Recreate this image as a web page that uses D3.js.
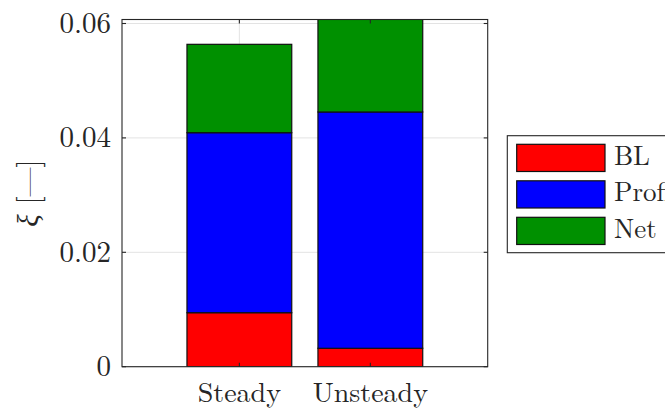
<!DOCTYPE html>
<html>
<head>
    <script src="https://d3js.org/d3.v7.min.js" charset="utf-8"></script>
    <style>
        body { margin: 0; background: white; }
    </style>
</head>
<body>
<script>
    // data
    var categories = ["Steady", "Unsteady"];
    var seriesNames = ["BL", "Profile", "Net"];
    var seriesColors = ["#ff0000", "#0000ff", "#009000"];
    var blValues = [0.00944, 0.00322];
    var profValues = [0.03147, 0.04131];
    var netValues = [0.01545, 0.0165];
    var yTicks = [0, 0.02, 0.04, 0.06];
    var yTickLabels = ["0", "0.02", "0.04", "0.06"];

    var W = 665, H = 409;
    var axL = 122, axR = 487.7, axT = 19.5, axB = 366.7;
    var serif = "'Latin Modern Roman', 'Liberation Serif', serif";

    var svg = d3.select("body")
        .append("svg")
        .attr("width", W)
        .attr("height", H)
        .attr("font-family", serif);

    var x = d3.scaleLinear().domain([0.104, 2.896]).range([axL, axR]);
    var y = d3.scaleLinear().domain([0, 0.0607]).range([axB, axT]);
    var barW = (x(2) - x(1)) * 0.8;

    svg.append("defs").append("clipPath").attr("id", "clip")
        .append("rect")
        .attr("x", axL).attr("y", axT)
        .attr("width", axR - axL).attr("height", axB - axT);

    // grid
    var grid = svg.append("g").attr("stroke", "#e3e3e3").attr("stroke-width", 1);
    yTicks.forEach(function (t) {
        grid.append("line")
            .attr("x1", axL).attr("x2", axR)
            .attr("y1", y(t)).attr("y2", y(t));
    });
    categories.forEach(function (c, i) {
        grid.append("line")
            .attr("x1", x(i + 1)).attr("x2", x(i + 1))
            .attr("y1", axT).attr("y2", axB);
    });

    // stacked bars
    var rows = categories.map(function (c, i) {
        return { cat: c, pos: i + 1, BL: blValues[i], Profile: profValues[i], Net: netValues[i] };
    });
    var stacked = d3.stack().keys(seriesNames)(rows);

    svg.append("g")
        .attr("clip-path", "url(#clip)")
        .selectAll("g.layer")
        .data(stacked)
        .enter()
        .append("g")
        .attr("class", "layer")
        .attr("fill", function (d, i) { return seriesColors[i]; })
        .selectAll("rect")
        .data(function (d) { return d; })
        .enter()
        .append("rect")
        .attr("x", function (d) { return x(d.data.pos) - barW / 2; })
        .attr("width", barW)
        .attr("y", function (d) { return y(d[1]); })
        .attr("height", function (d) { return y(d[0]) - y(d[1]); })
        .attr("stroke", "#111")
        .attr("stroke-width", 1.2);

    // frame and ticks
    var frame = svg.append("g").attr("stroke", "#262626").attr("stroke-width", 1.1).attr("fill", "none");
    frame.append("rect")
        .attr("x", axL).attr("y", axT)
        .attr("width", axR - axL).attr("height", axB - axT);
    yTicks.forEach(function (t) {
        frame.append("line").attr("x1", axL).attr("x2", axL + 4).attr("y1", y(t)).attr("y2", y(t));
        frame.append("line").attr("x1", axR).attr("x2", axR - 4).attr("y1", y(t)).attr("y2", y(t));
    });
    categories.forEach(function (c, i) {
        frame.append("line").attr("x1", x(i + 1)).attr("x2", x(i + 1)).attr("y1", axB).attr("y2", axB - 4);
        frame.append("line").attr("x1", x(i + 1)).attr("x2", x(i + 1)).attr("y1", axT).attr("y2", axT + 4);
    });

    // tick labels
    svg.append("g").selectAll("text")
        .data(yTicks)
        .enter()
        .append("text")
        .attr("x", 111)
        .attr("y", function (d) { return y(d) + 9.5; })
        .attr("text-anchor", "end")
        .attr("fill", "#262626")
        .attr("font-size", 29)
        .text(function (d, i) { return yTickLabels[i]; });

    svg.append("g").selectAll("text")
        .data(categories)
        .enter()
        .append("text")
        .attr("x", function (d, i) { return x(i + 1); })
        .attr("y", 401.5)
        .attr("text-anchor", "middle")
        .attr("fill", "#262626")
        .attr("font-size", 28)
        .text(function (d) { return d; });

    // y label
    var yl = svg.append("text")
        .attr("transform", "translate(38," + ((axT + axB) / 2) + ") rotate(-90)")
        .attr("text-anchor", "middle")
        .attr("fill", "#262626")
        .attr("font-size", 29);
    yl.append("tspan").attr("font-style", "italic").text("\u03BE");
    yl.append("tspan").text(" [\u2014]");

    // legend
    var lg = svg.append("g");
    lg.append("rect")
        .attr("x", 507.3).attr("y", 135.7)
        .attr("width", 250).attr("height", 117)
        .attr("fill", "white")
        .attr("stroke", "#262626")
        .attr("stroke-width", 1.1);
    seriesNames.forEach(function (s, i) {
        var yy = 144.3 + i * 36.5;
        lg.append("rect")
            .attr("x", 516.7).attr("y", yy)
            .attr("width", 88.3).attr("height", 27.2)
            .attr("fill", seriesColors[i])
            .attr("stroke", "#111")
            .attr("stroke-width", 1.2);
        lg.append("text")
            .attr("x", 614).attr("y", yy + 20.5)
            .attr("fill", "#262626")
            .attr("font-size", 27)
            .text(s);
    });
</script>
</body>
</html>
